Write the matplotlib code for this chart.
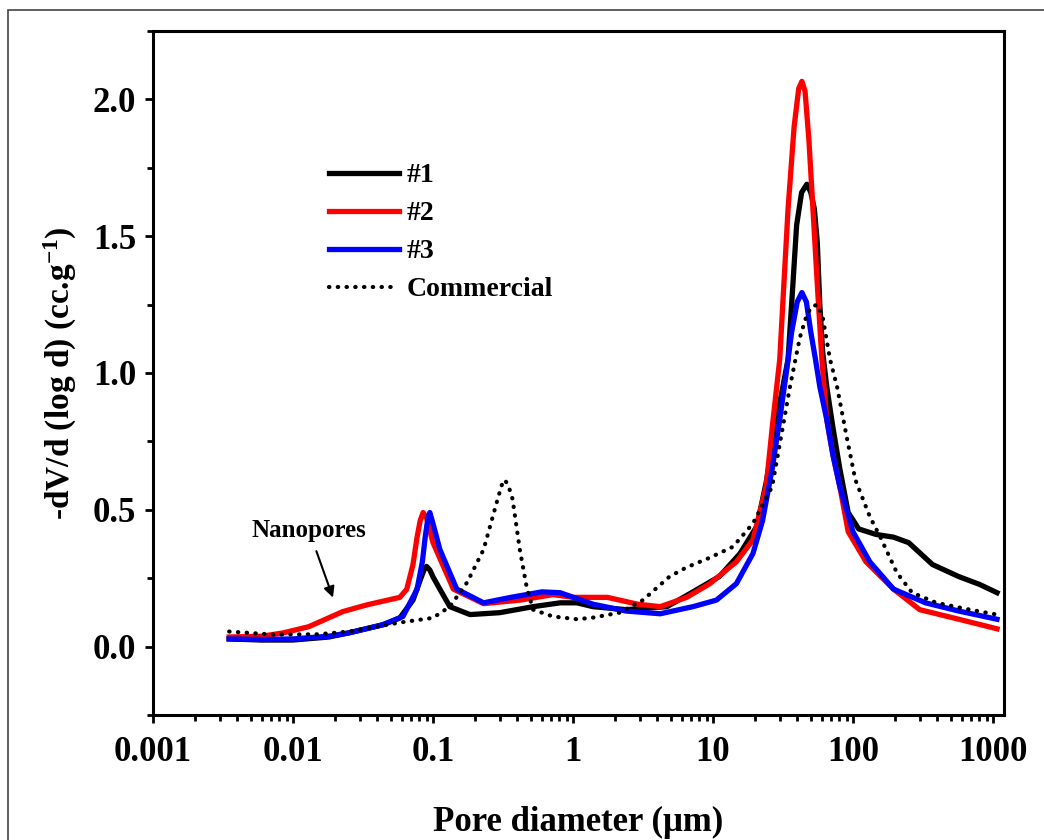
import matplotlib
matplotlib.use("Agg")
import matplotlib.pyplot as plt
from matplotlib.patches import Rectangle

# pore diameter (um) and -dV/d(log d) (cc/g)
d1 = [0.0035, 0.006, 0.01, 0.018, 0.025, 0.044, 0.058, 0.072, 0.082, 0.087, 0.09, 0.095, 0.1, 0.112, 0.132, 0.184,
      0.3, 0.52, 0.81, 1.07, 1.39, 2.4, 4.7, 7.2, 11.1, 15.6, 20.6, 24, 29, 34.4, 37, 39.6, 43, 46.9, 50, 53, 55.6,
      58, 60.7, 65, 72, 80.6, 92.5, 110, 146, 195, 250, 370, 570, 805, 1070]
v1 = [0.028, 0.024, 0.024, 0.035, 0.05, 0.08, 0.105, 0.17, 0.25, 0.285, 0.293, 0.28, 0.255, 0.21, 0.146, 0.117,
      0.124, 0.146, 0.16, 0.16, 0.146, 0.135, 0.146, 0.2, 0.256, 0.34, 0.44, 0.6, 0.85, 1.05, 1.3, 1.54, 1.66, 1.69, 1.66, 1.6, 1.48,
      1.25, 1.08, 0.95, 0.8, 0.65, 0.49, 0.43, 0.41, 0.40, 0.38, 0.30, 0.256, 0.227, 0.197]

d2 = [0.0035, 0.006, 0.0085, 0.013, 0.0227, 0.034, 0.058, 0.065, 0.072, 0.077, 0.081, 0.085, 0.09, 0.1, 0.14,
      0.23, 0.42, 0.72, 1.0, 1.76, 2.9, 4.2, 6.5, 9.5, 14.7, 19.3, 24, 26.5, 30, 34.4, 38, 41, 43.2, 45.5, 48.5,
      51.8, 56, 60, 65, 72, 80.6, 92.5, 124, 195, 300, 570, 1070]
v2 = [0.035, 0.038, 0.05, 0.073, 0.128, 0.153, 0.18, 0.21, 0.3, 0.4, 0.46, 0.49, 0.47, 0.38, 0.21,
      0.157, 0.17, 0.19, 0.18, 0.18, 0.155, 0.146, 0.18, 0.23, 0.31, 0.39, 0.585, 0.8, 1.05, 1.6, 1.9, 2.04, 2.066, 2.03, 1.85,
      1.6, 1.3, 1.05, 0.83, 0.7, 0.585, 0.42, 0.31, 0.21, 0.135, 0.1, 0.065]

d3 = [0.0035, 0.006, 0.01, 0.018, 0.025, 0.044, 0.061, 0.077, 0.084, 0.088, 0.092, 0.095, 0.1, 0.112, 0.148,
      0.23, 0.36, 0.6, 0.81, 1.39, 2.4, 4.2, 7.2, 10.6, 14.7, 19.3, 22.6, 26.5, 30, 33.6, 36.5, 40, 43.2, 46.5, 50,
      54, 58, 65, 72, 80.6, 100, 132, 195, 330, 570, 1070]
v3 = [0.028, 0.026, 0.028, 0.038, 0.05, 0.08, 0.11, 0.21, 0.31, 0.4, 0.47, 0.49, 0.45, 0.355, 0.21,
      0.16, 0.18, 0.2, 0.197, 0.155, 0.13, 0.12, 0.146, 0.17, 0.23, 0.34, 0.46, 0.65, 0.83, 1.01, 1.15, 1.26, 1.294, 1.26, 1.15,
      1.05, 0.95, 0.83, 0.7, 0.585, 0.42, 0.31, 0.21, 0.16, 0.13, 0.1]

dc = [0.0035, 0.0072, 0.015, 0.025, 0.058, 0.1, 0.132, 0.175, 0.23, 0.29, 0.31, 0.325, 0.345, 0.37, 0.417, 0.47,
      0.52, 0.72, 1.07, 1.39, 2.15, 3.16, 4.9, 6.5, 9.5, 13.9, 19.3, 26.5, 35.5, 41.8, 46, 50, 55.6, 61, 68.6, 77,
      90, 104, 132, 157, 206, 265, 395, 685, 1070]
vc = [0.055, 0.044, 0.045, 0.055, 0.088, 0.105, 0.146, 0.234, 0.355, 0.54, 0.59, 0.61, 0.59, 0.54, 0.355, 0.21,
      0.135, 0.11, 0.1, 0.106, 0.124, 0.17, 0.256, 0.29, 0.325, 0.365, 0.45, 0.585, 0.95, 1.13, 1.2, 1.24, 1.25, 1.2, 1.05, 0.95,
      0.77, 0.61, 0.475, 0.40, 0.27, 0.197, 0.16, 0.135, 0.117]

labels = ["#1", "#2", "#3", "Commercial"]

plt.rcParams['font.family'] = ['Liberation Serif', 'DejaVu Serif']
plt.rcParams['font.weight'] = 'bold'
plt.rcParams['mathtext.fontset'] = 'custom'
plt.rcParams['mathtext.rm'] = 'Liberation Serif:bold'
plt.rcParams['mathtext.default'] = 'rm'

fig = plt.figure(figsize=(10.44, 8.4), dpi=100)
ax = fig.add_axes([153/1044, 1 - 715/840, (1004 - 153)/1044, (715 - 31)/840])

lw = 3.8
ax.plot(d1, v1, color='black', lw=lw, label=labels[0], solid_joinstyle='round')
ax.plot(d2, v2, color='#ff0000', lw=lw, label=labels[1], solid_joinstyle='round')
ax.plot(d3, v3, color='#0000ff', lw=lw, label=labels[2], solid_joinstyle='round')
ax.plot(dc, vc, color='black', lw=3.0, linestyle=(0, (0.1, 2.0)), dash_capstyle='round', label=labels[3])

ax.set_xscale('log')
ax.set_xlim(0.001, 1200)
ax.set_ylim(-0.25, 2.25)
ax.set_xticks([0.001, 0.01, 0.1, 1, 10, 100, 1000])
ax.set_xticklabels(["0.001", "0.01", "0.1", "1", "10", "100", "1000"])
ax.set_yticks([0.0, 0.5, 1.0, 1.5, 2.0])
ax.set_yticks([-0.25, 0.25, 0.75, 1.25, 1.75, 2.25], minor=True)
ax.set_yticklabels(["0.0", "0.5", "1.0", "1.5", "2.0"])

for s in ax.spines.values():
    s.set_linewidth(2.2)
ax.tick_params(which='both', direction='out', top=False, right=False, width=2.0, labelsize=25)
ax.tick_params(which='major', length=6, pad=6)
ax.tick_params(which='minor', length=4)
ax.tick_params(axis='x', which='major', pad=9)

ax.set_xlabel("Pore diameter (\u03bcm)", fontsize=25, fontweight='bold', labelpad=27)
ax.set_ylabel("-dV/d (log d) (cc.g$^{-1}$)", fontsize=24, fontweight='bold', labelpad=10)

ax.annotate("Nanopores", xy=(0.0193, 0.179), xytext=(0.013, 0.425),
            fontsize=18, fontweight='bold', ha='center', va='center',
            arrowprops=dict(arrowstyle='-|>', color='black', lw=1.5, mutation_scale=16, shrinkA=5, shrinkB=0))

ax.legend(loc='upper left', bbox_to_anchor=(0.207, 0.807), frameon=False, fontsize=20,
          handlelength=2.5, handletextpad=0.3, labelspacing=0.45, borderpad=0, borderaxespad=0)

fig.add_artist(Rectangle((8/1044, -0.1), 1.2, 1 - 10/840 + 0.1, transform=fig.transFigure,
                         fill=False, edgecolor='#444444', lw=1.2))

fig.savefig("out.png", dpi=100)
